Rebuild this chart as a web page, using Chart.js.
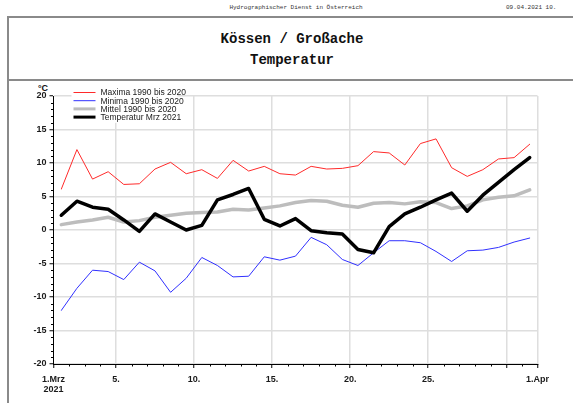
<!DOCTYPE html>
<html>
<head>
<meta charset="utf-8">
<script src="https://cdn.jsdelivr.net/npm/chart.js@4/dist/chart.umd.min.js"></script>
<style>
  html, body { margin: 0; padding: 0; background: #fff; }
  body { width: 573px; height: 403px; position: relative; overflow: hidden; font-family: "Liberation Sans", Arial, sans-serif; }
  .hdr { position: absolute; top: 4px; font: 6px "Liberation Mono", "Courier New", monospace; color: #333; white-space: nowrap; }
  .frame-left { position: absolute; left: 7px; top: 16px; width: 2px; height: 400px; background: #8a8a8a; }
  .frame-top { position: absolute; left: 7px; top: 16px; width: 600px; height: 2px; background: #8a8a8a; }
  .frame-mid { position: absolute; left: 7px; top: 79px; width: 600px; height: 2px; background: #8a8a8a; }
  .title { position: absolute; left: 0; width: 584px; text-align: center; font: bold 14px "Liberation Mono", "Courier New", monospace; color: #111; white-space: nowrap; }
  .unit { position: absolute; left: 38px; top: 83px; font: bold 9px "Liberation Sans", Arial, sans-serif; color: #111; }
  #wrap { position: absolute; left: 0; top: 0; width: 573px; height: 403px; }
</style>
</head>
<body>
<div class="hdr" style="left:0;width:592px;text-align:center;">Hydrographischer Dienst in Österreich</div>
<div class="hdr" style="left:506px;">09.04.2021 10.</div>
<div class="frame-left"></div>
<div class="frame-top"></div>
<div class="frame-mid"></div>
<div class="title" style="top:31px;">Kössen / Großache</div>
<div class="title" style="top:52px;">Temperatur</div>
<div class="unit">°C</div>
<div id="wrap"><canvas id="c"></canvas></div>
<script>
// Tagesnummern im März 2021
const days = [1,2,3,4,5,6,7,8,9,10,11,12,13,14,15,16,17,18,19,20,21,22,23,24,25,26,27,28,29,30,31];

// Langjährige Kennwerte 1990 bis 2020 (°C)
const maxima = [6.1,12.0,7.6,8.7,6.8,6.9,9.1,10.1,8.4,9.0,7.7,10.4,8.8,9.5,8.4,8.2,9.5,9.1,9.2,9.6,11.7,11.5,9.7,12.9,13.6,9.3,8.0,9.0,10.6,10.8,12.8];
const minima = [-12.0,-8.7,-6.0,-6.2,-7.4,-4.8,-6.1,-9.3,-7.2,-4.1,-5.3,-7.0,-6.9,-4.0,-4.5,-3.9,-1.1,-2.2,-4.4,-5.3,-3.4,-1.6,-1.6,-1.9,-3.2,-4.7,-3.1,-3.0,-2.6,-1.8,-1.2];
const mittel = [0.8,1.2,1.5,1.9,1.2,1.4,1.9,2.2,2.5,2.6,2.7,3.1,3.0,3.3,3.6,4.1,4.4,4.3,3.7,3.4,4.0,4.1,3.9,4.2,4.1,3.2,3.6,4.5,4.9,5.1,6.0];

// Tagesmittel März 2021 (°C)
const temperatur = [2.2,4.3,3.4,3.1,1.5,-0.2,2.4,1.2,0.0,0.7,4.5,5.3,6.2,1.6,0.6,1.7,-0.1,-0.4,-0.6,-2.9,-3.4,0.5,2.4,3.4,4.5,5.5,2.8,5.2,7.1,9.0,10.8];

// Achsenbeschriftung
const xTickLabels = { 1: ['1.Mrz', '2021'], 5: '5.', 10: '10.', 15: '15.', 20: '20.', 25: '25.', 32: '1.Apr' };
const yTickLabels = { '-20': '-20', '-15': '-15', '-10': '-10', '-5': '-5', '0': '0', '5': '5', '10': '10', '15': '15', '20': '20' };

// Werte jeweils in der Tagesmitte darstellen
const points = arr => arr.map((v, i) => ({ x: days[i] + 0.5, y: v }));

const isMajorX = v => v === 1 || v === 32 || v % 5 === 0;
const isMajorY = v => v % 5 === 0;

// kurze Zwischenstriche an beiden Achsen
const minorTicks = {
  id: 'minorTicks',
  afterDraw(chart) {
    const ctx = chart.ctx;
    const xs = chart.scales.x, ys = chart.scales.y;
    ctx.save();
    ctx.strokeStyle = '#000';
    ctx.lineWidth = 1;
    ctx.beginPath();
    xs.ticks.forEach(t => {
      if (isMajorX(t.value)) return;
      const px = Math.round(xs.getPixelForValue(t.value)) + 0.5;
      ctx.moveTo(px, xs.top);
      ctx.lineTo(px, xs.top + 2.5);
    });
    ys.ticks.forEach(t => {
      if (isMajorY(t.value)) return;
      const py = Math.round(ys.getPixelForValue(t.value)) + 0.5;
      ctx.moveTo(ys.right, py);
      ctx.lineTo(ys.right - 2.5, py);
    });
    ctx.stroke();
    ctx.restore();
  }
};

// Legende links oben im Diagramm
const boxLegend = {
  id: 'boxLegend',
  afterDraw(chart) {
    const ctx = chart.ctx;
    const area = chart.chartArea;
    const x0 = area.left + 20, y0 = area.top - 8;
    const rowH = 8.2;
    const items = chart.data.datasets;
    ctx.save();
    ctx.fillStyle = '#fff';
    ctx.fillRect(x0 - 2, y0 - 1, 106, rowH * items.length + 3);
    ctx.font = '8.5px "Liberation Sans", Arial, sans-serif';
    ctx.textBaseline = 'middle';
    items.forEach((ds, i) => {
      const y = y0 + 4.5 + i * rowH;
      ctx.strokeStyle = ds.borderColor;
      ctx.lineWidth = Math.min(ds.borderWidth, 3);
      ctx.beginPath();
      ctx.moveTo(x0, y);
      ctx.lineTo(x0 + 22, y);
      ctx.stroke();
      ctx.fillStyle = '#1a1a1a';
      ctx.fillText(ds.label, x0 + 27, y + 0.5);
    });
    ctx.restore();
  }
};

const tickFont = { family: '"Liberation Sans", Arial, sans-serif', size: 9, weight: 'bold', lineHeight: 1.1 };

new Chart(document.getElementById('c'), {
  type: 'line',
  data: {
    datasets: [
      { label: 'Maxima 1990 bis 2020', data: points(maxima), borderColor: '#ff2a2a', borderWidth: 1, order: 2 },
      { label: 'Minima 1990 bis 2020', data: points(minima), borderColor: '#3030ff', borderWidth: 1, order: 2 },
      { label: 'Mittel 1990 bis 2020', data: points(mittel), borderColor: '#bdbdbd', borderWidth: 3.5, order: 3 },
      { label: 'Temperatur Mrz 2021', data: points(temperatur), borderColor: '#000000', borderWidth: 3.5, order: 0 }
    ]
  },
  options: {
    responsive: true,
    maintainAspectRatio: false,
    animation: false,
    devicePixelRatio: 1,
    layout: { padding: { left: 0, top: 96, right: 35.5, bottom: 9 } },
    elements: {
      line: { tension: 0, fill: false, borderJoinStyle: 'round', borderCapStyle: 'round' },
      point: { radius: 0, hoverRadius: 0 }
    },
    plugins: { legend: { display: false }, tooltip: { enabled: false }, title: { display: false } },
    scales: {
      x: {
        type: 'linear',
        min: 1,
        max: 32,
        afterFit(scale) { scale.height = 30; },
        border: { color: '#000', width: 1 },
        grid: {
          color: c => (c.tick && c.tick.value % 5 === 0) || (c.tick && c.tick.value === 32) ? '#dedede' : 'rgba(0,0,0,0)',
          lineWidth: 1.5,
          drawTicks: true,
          tickLength: 4,
          tickColor: c => c.tick && isMajorX(c.tick.value) ? '#000' : 'rgba(0,0,0,0)',
          tickWidth: 1
        },
        ticks: {
          stepSize: 1,
          autoSkip: false,
          maxRotation: 0,
          minRotation: 0,
          padding: 7,
          color: '#1a1a1a',
          font: tickFont,
          callback: v => xTickLabels[v] !== undefined ? xTickLabels[v] : ''
        }
      },
      y: {
        min: -20,
        max: 20,
        afterFit(scale) { scale.width = 53.5; },
        border: { color: '#000', width: 1 },
        grid: {
          color: c => c.tick && c.tick.value % 5 === 0 ? '#dedede' : 'rgba(0,0,0,0)',
          lineWidth: 1.5,
          drawTicks: true,
          tickLength: 4,
          tickColor: c => c.tick && isMajorY(c.tick.value) ? '#000' : 'rgba(0,0,0,0)',
          tickWidth: 1
        },
        ticks: {
          stepSize: 1,
          autoSkip: false,
          padding: 3,
          color: '#1a1a1a',
          font: tickFont,
          callback: v => yTickLabels[String(v)] !== undefined ? yTickLabels[String(v)] : ''
        }
      }
    }
  },
  plugins: [minorTicks, boxLegend]
});
</script>
</body>
</html>
